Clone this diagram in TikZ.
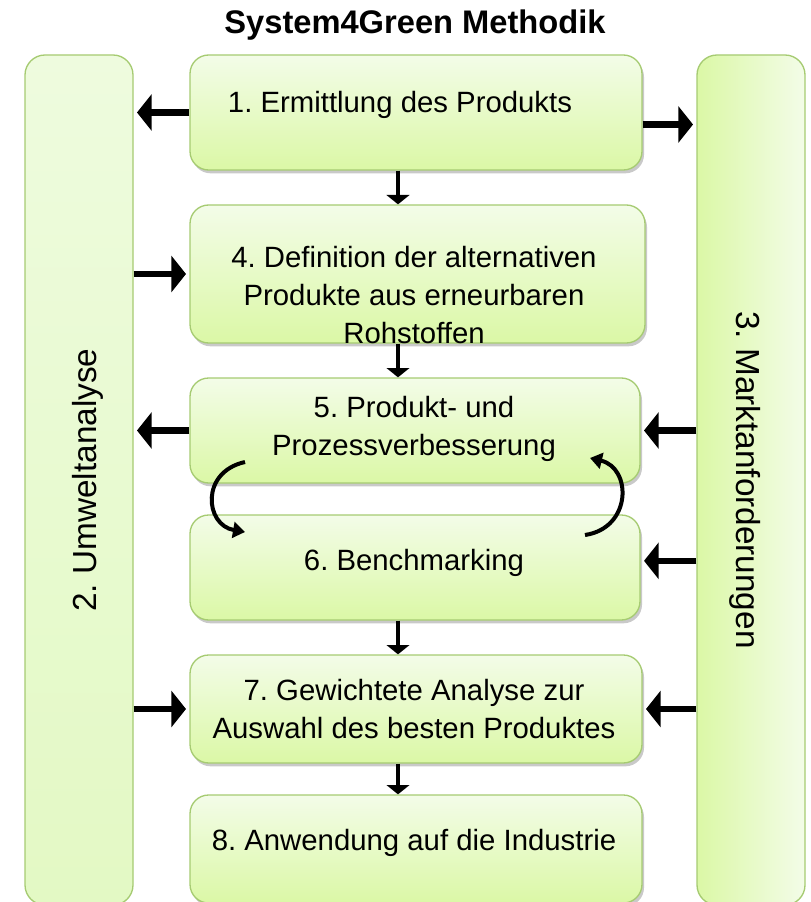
\documentclass[tikz,border=0pt]{standalone}
\usepackage{fontspec}
\setmainfont{Liberation Sans}
\usetikzlibrary{arrows.meta,shadows}
\definecolor{boxtop}{HTML}{F3FCE8}
\definecolor{boxbot}{HTML}{DBF8A6}
\definecolor{barlight}{HTML}{EEFBDE}
\definecolor{barmid}{HTML}{E3F9C4}
\definecolor{boxline}{HTML}{A6CB72}
\frenchspacing

\begin{document}
\begin{tikzpicture}[x=0.75pt,y=-0.75pt,>=Triangle,semithick]
	\tikzstyle{stepbox}=[draw=boxline,line width=1pt,rounded corners=14pt,
		top color=boxtop,bottom color=boxbot,minimum width=339pt,
		drop shadow={shadow xshift=1.5pt,shadow yshift=-2.5pt,opacity=0.3,fill=black!70}]
	\tikzstyle{sidebar}=[draw=boxline,line width=1pt,rounded corners=15pt,
		minimum width=81pt,minimum height=637.5pt]
	\tikzstyle{txt}=[inner sep=0pt,align=center,font=\fontsize{22}{28.5}\selectfont]
	\tikzstyle{bartxt}=[inner sep=0pt,font=\fontsize{25}{28}\selectfont]
	\tikzstyle{harr}=[->,line width=5pt,>={Triangle[length=11pt,width=27pt]},shorten >=2.5pt]
	\tikzstyle{varr}=[->,line width=3.5pt,>={Triangle[length=7pt,width=17pt]}]
	\tikzstyle{loop}=[->,line width=3pt,>={Triangle[length=9pt,width=12pt]}]
	
	\useasboundingbox (0,0) rectangle (810,902);
	
	\node[font=\bfseries\fontsize{24.5}{28}\selectfont] (title) at (415,25) {System4Green Methodik};
	
	\node[sidebar,top color=barlight,bottom color=barmid] (bL) at (79,480) {};
	\node[sidebar,left color=boxbot,right color=boxtop] (bR) at (751,480) {};
	\node[bartxt,rotate=90] (tL) at (88,480) {2. Umweltanalyse};
	\node[bartxt,rotate=-90] (tR) at (745,480) {3. Marktanforderungen};
	
	\node[stepbox,minimum height=86.25pt] (b1) at (416,112.5) {};
	\node[stepbox,minimum width=341.25pt,minimum height=103.5pt] (b4) at (417.5,274) {};
	\node[stepbox,minimum width=337.5pt,minimum height=78.75pt] (b5) at (415,430.5) {};
	\node[stepbox,minimum width=337.5pt,minimum height=78.75pt] (b6) at (415,567.5) {};
	\node[stepbox,minimum height=81pt] (b7) at (416,709) {};
	\node[stepbox,minimum height=81pt] (b8) at (416,849) {};
	
	\node[txt] (t1) at (400,105) {1. Ermittlung des Produkts};
	\node[txt] (t4) at (414,295) {4. Definition der alternativen\\Produkte aus erneurbaren\\Rohstoffen};
	\node[txt] (t5) at (414,429) {5. Produkt- und\\Prozessverbesserung};
	\node[txt] (t6) at (414,563) {6. Benchmarking};
	\node[txt] (t7) at (414,709) {7. Gewichtete Analyse zur\\Auswahl des besten Produktes};
	\node[txt] (t8) at (414,843) {8. Anwendung auf die Industrie};
	
	% flow axis and loop between 5 and 6
	\coordinate (ax) at (398,0);
	\coordinate (c1) at (245,462);
	\coordinate (c2) at (245,532);
	\coordinate (c3) at (585,535);
	\coordinate (c4) at (590,458);
	
	\path[harr] (b1.west) edge (b1.west -| bL.east)
	([yshift=-9pt]b1.east) edge ([yshift=-9pt]b1.east -| bR.west)
	(bL.east |- b4.west) edge (b4.west)
	(b5.west) edge (b5.west -| bL.east)
	(bR.west |- b5.east) edge (b5.east)
	([yshift=5pt]bR.west |- b6.east) edge ([yshift=5pt]b6.east)
	(bL.east |- b7.west) edge (b7.west)
	(bR.west |- b7.east) edge (b7.east);
	
	\path[varr] (ax |- b1.south) edge (ax |- b4.north)
	(ax |- b4.south) edge (ax |- b5.north)
	(ax |- b6.south) edge (ax |- b7.north)
	(ax |- b7.south) edge (ax |- b8.north);
	
	\draw[loop] (c1) .. controls (200,472) and (205,525) .. (c2);
	\draw[loop] (c3) .. controls (632,528) and (632,468) .. (c4);
\end{tikzpicture}
\end{document}
